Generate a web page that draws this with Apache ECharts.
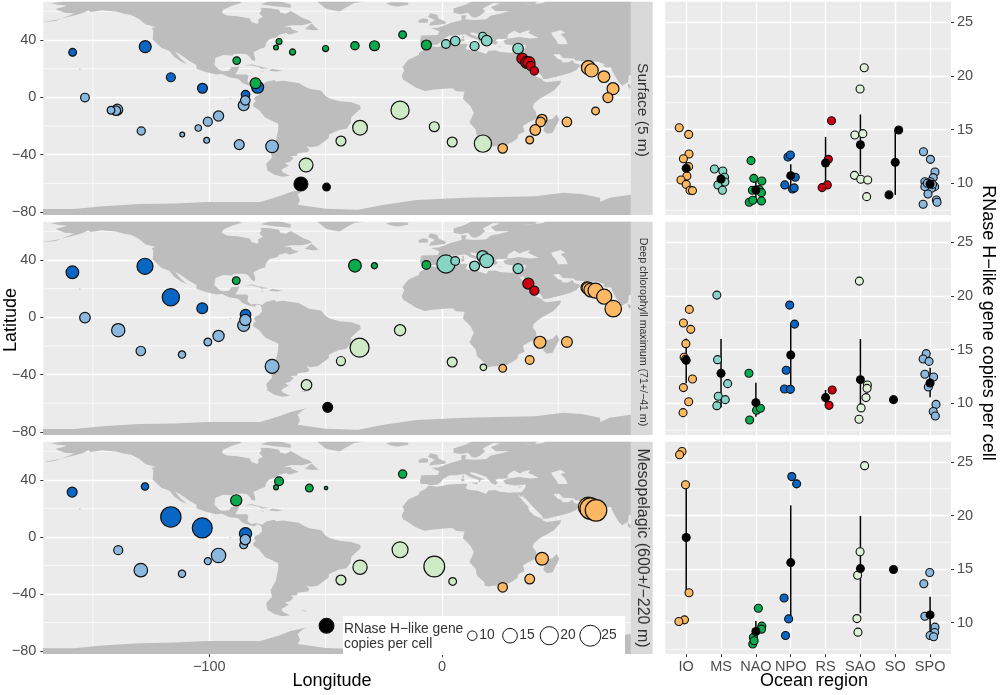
<!DOCTYPE html>
<html>
<head>
<meta charset="utf-8">
<script src="https://cdn.jsdelivr.net/npm/echarts@6/dist/echarts.min.js"></script>
<style>
html, body { margin: 0; padding: 0; background: #fff; }
#main { width: 1000px; height: 695px; }
</style>
</head>
<body>
<div id="main"></div>
<script>
var categories = ['IO', 'MS', 'NAO', 'NPO', 'RS', 'SAO', 'SO', 'SPO'];
var depthLabels = ['Surface (5 m)', 'Deep chlorophyll maximum (71+/\u221241 m)', 'Mesopelagic (600+/\u2212220 m)'];
var legendValues = [10, 15, 20, 25];

var lonTicks = [-100, 0], lonMinor = [-150, -50, 50];
var latTicks = [40, 0, -40, -80], latMinor = [60, 20, -20, -60];
var copyTicks = [10, 15, 20, 25], copyMinor = [7.5, 12.5, 17.5, 22.5];
var regionTicks = [1, 2, 3, 4, 5, 6, 7, 8];

// land outlines, lon / lat
var americas = [[-168,65.6],[-164,66.5],[-163,67],[-166,68.4],[-162,70],[-156,71.3],[-150,70.5],[-141,69.7],[-135,69],[-128,70],[-120,69.5],[-115,68],[-108,68],[-100,68],[-95,70],[-95,68],[-90,68.5],[-87,67],[-86,66],[-90,64],[-94,61],[-94.5,58.8],[-92.5,57],[-88,56.5],[-82.5,55],[-82,52.7],[-79.5,51.3],[-78.8,52],[-79,54.5],[-77,56],[-78.5,58.7],[-77.5,60.5],[-78,62.4],[-74,62.2],[-70,61],[-69.5,59],[-67,58.3],[-65,60.2],[-62,57.5],[-60,55.5],[-57,53.5],[-55.8,52],[-60,50.2],[-65,50.3],[-68,48.8],[-65,49],[-64.5,47.5],[-61.5,45.7],[-65.5,43.6],[-67,44.8],[-70,43.6],[-70.7,42],[-74,40.6],[-75.5,38],[-76,35],[-78,33.8],[-81,31.5],[-80.2,27],[-80.4,25.2],[-81.8,26],[-82.8,28.5],[-84,30],[-86,30.4],[-89.5,30.2],[-90,29.1],[-94,29.6],[-97.3,27.5],[-97.8,22.5],[-95.5,18.8],[-94,18.2],[-91.5,18.6],[-90.5,21],[-87,21.5],[-88,18],[-88.8,15.9],[-84,15.9],[-83.2,14.8],[-83.6,11],[-82,9],[-79.8,9.5],[-77.3,8.6],[-75.5,10.8],[-72,12.1],[-71.3,11],[-68,11.5],[-64,10.5],[-61.5,10],[-60,8.4],[-57,6],[-52,4.8],[-50,1],[-48,-1],[-44,-2.7],[-39,-3.5],[-35.2,-5.5],[-34.9,-8],[-37,-11],[-39,-14],[-39.2,-18],[-41,-22],[-44.5,-23],[-48.5,-26],[-48.7,-28.5],[-52,-32.5],[-53.5,-34.2],[-56.5,-34.9],[-58.3,-34],[-57,-36.5],[-57.6,-38.2],[-62,-39],[-62.3,-40.8],[-65,-41],[-63.8,-42.5],[-65.3,-45],[-67.5,-46],[-65.8,-47.5],[-69,-50.5],[-68.4,-52.4],[-65.2,-54.8],[-68.5,-55.5],[-72,-54],[-75,-51],[-75.5,-46.5],[-73,-42],[-73.7,-37.5],[-71.5,-31],[-70.4,-23],[-70.3,-18.4],[-76,-14],[-78.5,-9],[-81.2,-6],[-81,-4],[-80,-3],[-80.8,-1],[-80,0.8],[-78.8,1.5],[-77.3,4],[-77.5,7],[-78.2,8.4],[-79.6,8.9],[-80.5,7.3],[-83,8.3],[-85.7,10],[-87.6,13],[-91.5,14],[-94.5,16.2],[-97,15.9],[-101.5,17.6],[-105.5,20],[-105.5,22.5],[-108.5,25.3],[-112.5,29.8],[-114.7,31.7],[-112.3,27],[-109.5,23],[-112,24.8],[-115,28.2],[-117.2,32.5],[-120.6,34.5],[-122.5,37.5],[-124.3,40.3],[-124,46],[-124.7,48.4],[-123,49],[-127.5,51],[-130,54.5],[-133.5,57.5],[-137,58.5],[-140,59.8],[-146,60.7],[-151,59.5],[-152,60.8],[-154,59],[-158,57],[-163.5,55],[-158,58.5],[-162,59],[-164.5,60.5],[-166,61.6],[-161,63.8],[-165,64.5]];
var africa = [[-5.9,35.8],[-2,35.1],[3,36.8],[10,37.3],[11,36.9],[10.2,34.3],[11,33.2],[15.2,32.3],[19,30.3],[20,32.5],[23,32.7],[25,31.6],[29,31],[32.3,31.2],[32.6,29.9],[33.7,27.5],[35.5,24],[37.2,21],[37.3,18.7],[39.5,15.2],[43.2,12.5],[43.3,11.5],[45,10.5],[51.2,11.8],[50.8,9.5],[48,4.5],[42,-1],[39.5,-4.5],[39,-7],[40.5,-10.5],[40.7,-15],[36.8,-18],[34.8,-20],[35.5,-24],[32.8,-26],[32.5,-28.5],[30.5,-31],[27,-33.8],[22,-34.2],[20,-34.8],[18.4,-34],[18.2,-31.7],[15,-27],[14.5,-22.5],[11.8,-17.5],[13.7,-10.8],[12.2,-6],[9,-1],[9.7,3.8],[6,4.3],[4.5,6.3],[1,5.9],[-4,5.2],[-7.5,4.4],[-11.5,7],[-13.3,9],[-16.7,12.4],[-17.3,14.7],[-16.2,19],[-17,21],[-14.5,26.2],[-10,29.5],[-9.7,31.5],[-6.8,34]];
var eurasia = [[-9,37],[-9.5,39],[-8.9,43.2],[-1.8,43.4],[-1.2,46],[-4.7,48.4],[-1.5,48.7],[1.5,50.5],[4,52],[8.5,54],[8.2,57],[10.5,57.5],[10,54.5],[14,54],[19,54.5],[21,57],[24,58],[29,60],[23,60],[21,63],[25,65.5],[22,65.8],[17.5,62],[18.5,60],[16.5,57],[14.5,55.5],[12.8,56],[11.2,59],[8,58],[5,59],[5,62],[10,64.5],[14,68],[20,70],[28,71],[41,67],[40,65],[35,64.5],[38,64.5],[44,66],[44,68],[55,68.5],[68,69],[70,73],[81,73],[90,75],[90,22],[86,20],[82,16.5],[80.2,15],[80.2,12.5],[79.8,10.2],[78,8.8],[77.5,8],[76,10.5],[74.5,14.5],[73,19],[72.7,21],[70.5,20.8],[69,22.3],[70,23],[67,24.8],[62,25.2],[57.5,25.7],[56.5,27],[52,27.5],[50.5,30],[48.5,30.2],[48,29.5],[50,26.5],[51.5,25.8],[51.5,24.5],[54,24.2],[56.2,26],[56.8,24],[59.8,22.5],[57.8,19],[55,17],[52,15.6],[45,12.8],[43.5,12.7],[42.8,15],[39.5,20.5],[37,25],[35,28],[34.9,29.5],[34.3,27.8],[32.6,29.9],[32.3,31.2],[34.3,31.3],[35.9,35],[36,36.7],[32,36],[30,36.3],[27.3,37],[26.3,39.5],[29,41],[33,42],[38,41],[41.5,41.5],[39,43.5],[37,45],[38,47],[35,45.8],[33.5,44.5],[31,46.5],[28.5,44],[28,41.8],[29,41.1],[26,40.7],[24,40.8],[23,40],[24,38],[23,36.5],[21.5,37.5],[19.5,41],[19,42.2],[14,45],[12.3,45.3],[12.4,44],[16,41.8],[18.4,40],[16.8,40],[16,38],[15.7,40],[12,42],[10,44],[6,43.2],[3.2,43.2],[0.5,40.5],[-0.5,38.5],[-2,36.8],[-5.3,36.1],[-6.4,37]];
var antarctica = [[-180,-78],[-158,-78],[-146,-76],[-130,-74.5],[-115,-74],[-101,-73],[-90,-73],[-78,-73],[-70,-69],[-65,-66],[-58,-63.5],[-60,-65],[-62,-68],[-61,-72],[-62,-75],[-50,-77.8],[-36,-78.5],[-25,-75],[-11,-71.6],[10,-70],[24,-69.5],[40,-69],[52,-66.5],[60,-67.5],[68,-70],[68,-73],[72,-70],[81,-68],[100,-66],[100,-90],[-180,-90]];
var greenland = [[-55,70],[-53,66],[-50,62],[-48,61],[-43.9,59.9],[-42,62],[-38,65.7],[-30,68],[-22,70],[-20,78],[-60,82],[-72,78]];
var iceland = [[-24,65.5],[-22,64],[-19,63.4],[-14.5,64.5],[-14.5,66],[-18,66.3],[-22,66.4]];
var baffin = [[-80,70],[-72,68],[-65,65],[-65,62.5],[-72,63.5],[-78,65],[-74,67]];
var newfoundland = [[-59,47.7],[-56,51.5],[-53,47],[-55.5,46.8]];
var cuba = [[-84.9,21.9],[-82,23.1],[-77,21],[-74.2,20.2],[-77.7,19.9],[-78.5,21],[-82,22.4]];
var hispaniola = [[-74.4,18.5],[-73,19.9],[-68.4,18.6],[-71,18]];
var jamaica = [[-78.3,18.3],[-76.3,18.1],[-77,17.8]];
var britain = [[-5.5,50],[1.3,51.2],[1.7,52.7],[-1.5,55],[-2,57.6],[-5,58.6],[-6,56],[-3,54],[-5,52]];
var ireland = [[-10,52],[-6,52.2],[-6,54.5],[-8,55.2],[-10,54]];
var madagascar = [[49.3,-12],[50.4,-15.5],[47.5,-24.8],[45,-25.5],[43.5,-23],[44.4,-19],[44.3,-16.2],[47.5,-15]];
var sriLanka = [[80,9.7],[81.8,7.5],[80.5,6],[79.8,8]];
var sardinia = [[8.3,39],[9.7,39.2],[9.5,41],[8.3,40.8]];
var corsica = [[8.6,41.6],[9.4,41.5],[9.4,43],[8.7,42.6]];
var sicily = [[12.5,38],[15.5,38.2],[15,36.7]];
var crete = [[23.5,35.5],[26.3,35.2],[24.5,34.9]];
var cyprus = [[32.3,34.8],[34.5,35.6],[33.5,34.7]];
var falklands = [[-61,-51.5],[-58,-51.5],[-58.5,-52.3]];
var hawaii = [[-156,20.2],[-155,19.7],[-155.7,19]];
var aleutians = [[-172,52.3],[-166,53.3],[-163.5,54.8],[-166,54]];
var galapagos = [[-91.5,-0.3],[-90.2,-0.4],[-91,-1]];
var landShapes = [americas, africa, eurasia, antarctica, greenland, iceland, baffin, newfoundland, cuba, hispaniola, jamaica, britain, ireland, madagascar, sriLanka, sardinia, corsica, sicily, crete, cyprus, falklands, hawaii, aleutians, galapagos];
var caspian = [[47,45],[51,47],[53,45],[51,44],[53,41],[54,37],[50,37],[49,40],[47.5,43]];

// map sites: lon, lat, copies per cell
var surfaceSites = {
    NPO: [[-158.7,31.4,9],[-127.5,35.3,12],[-116.5,14,9.7],[-102.9,6.3,10.3],[-79.2,7,12],[-84.4,1.9,9.4]],
    SPO: [[-153.4,-0.2,9.5],[-139.5,-8.6,11],[-140.1,-9.3,10],[-142.2,-9,9],[-129.2,-23.5,9.2],[-111.6,-26,8.1],[-104.7,-21.4,8.5],[-101.1,-30,8.3],[-100.6,-17,9.7],[-96,-13,10.5],[-85.2,-5.6,11],[-84.5,-2.1,10],[-87.1,-33,10.3],[-73,-34.2,12.7]],
    SAO: [[-43.4,-30.5,10.3],[-35.2,-21.2,15],[-18,-9,20],[-3.3,-20.5,10.3],[4.4,-31.2,10.3],[17.6,-32.3,18.5],[-58.4,-47.2,14]],
    SO: [[-60.6,-60.5,14],[-49.6,-62.6,9]],
    NAO: [[-88.2,25.6,8.9],[-80.1,9.8,11],[-70,39,8.3],[-71.3,34.7,8.1],[-64.2,31.6,8.4],[-50,34,8.4],[-37.4,36,9.3],[-29,36,10.3],[-16.9,43.7,9],[-6.7,36.5,10.3]],
    MS: [[1.7,37.2,9.5],[5.7,39.3,10],[14,35.8,9.7],[17.5,42.6,9.1],[19.2,39.5,10.8],[32.7,34,10.8]],
    RS: [[34.5,27,11],[36.4,24.4,12],[37.4,24.2,12],[38.1,21.9,9.7],[39.7,18.4,9.3]],
    IO: [[62.9,20.7,14],[64.3,18.8,13.3],[69.6,14.4,11.7],[73.5,6,12],[71.3,-0.2,10.3],[66,-9.5,9],[53.7,-17.2,10],[43,-15.3,10.3],[42.4,-17.2,10],[40.1,-22.8,10.8],[37.7,-29.8,9],[26.1,-35.6,10]]
};
var deepSites = {
    NPO: [[-158.8,31.4,12.7],[-127.6,35.6,16.7],[-116.5,14,18.5],[-103,6.3,11],[-84.4,1.9,10.8]],
    SPO: [[-153.4,-0.2,10.8],[-139.1,-9,13.3],[-129.4,-23.5,10],[-111.7,-26,8.8],[-100.6,-17.2,9],[-96,-13,11.3],[-85.2,-5.6,12],[-84.5,-1.9,11.3],[-73,-34.2,14]],
    SAO: [[-58.2,-47.2,10.8],[-43.4,-30.5,9.7],[-35.4,-21.2,21.3],[-18,-9,11.3],[4.4,-31.2,10.3],[17.8,-34.9,8.5]],
    SO: [[-49.1,-62.8,10.3]],
    NAO: [[-88.4,25.6,9],[-37.4,36,12.7],[-29,36,8.4],[-6.7,36.5,9.5]],
    MS: [[1.7,37.2,20],[5.7,39.3,9.5],[14,35.8,10.3],[17.5,42.6,11.5],[19.2,39.5,14],[32.7,34,10.3]],
    RS: [[37.1,23.5,11.2],[39.7,18.6,9.8]],
    IO: [[62.2,20.7,11.5],[62.9,20.2,12.7],[64,19,14],[66,18.6,15.5],[69.7,14.4,15.5],[73.6,6,17.4],[42.1,-17.4,12],[53.7,-17.2,11],[37.7,-29.8,9.5],[26.1,-35.6,9]]
};
var mesoSites = {
    NPO: [[-158.9,31.4,10.3],[-127.6,35.3,8.8],[-116.5,14,23.7],[-103,6.3,23],[-84.4,2.3,12.2]],
    SPO: [[-139.1,-9.3,9.7],[-129.4,-23.3,13.6],[-111.7,-25.8,8.8],[-100.6,-17,8.7],[-96,-13,14.6],[-85.2,-5.6,9],[-84.5,-1.9,10.6]],
    SAO: [[-43.4,-30.2,10.3],[-35.2,-21.2,14.4],[-18,-9,16.6],[-3.3,-20.7,24.6],[4.6,-31.2,9]],
    SO: [[-49.6,-62.3,15]],
    NAO: [[-88.4,25.6,11.3],[-70,39,9.6],[-71.3,34.7,8.1],[-57,34.2,9],[-49.8,34.2,8],[-16.9,44,9.3]],
    MS: [],
    RS: [],
    IO: [[62.9,20.9,22.8],[63.9,19.8,25.8],[66.2,18.6,26],[43,-15.3,12.8],[37.7,-29.5,10.2],[26.1,-35.3,10]]
};

// right panels: jittered region position, copies per cell
var surfaceCopies = {
    NPO: [[3.92,12.45],[3.99,12.63],[3.83,9.85],[4.05,9.47],[4.1,9.57],[4.13,10.56]],
    SPO: [[7.81,12.94],[8.01,12.23],[8.14,11.05],[8.09,10.53],[7.85,10.15],[8.01,10.15],[8.13,9.69],[8.04,9.54],[7.85,9.69],[7.94,9],[8.18,8.45],[8.2,8.23],[7.8,8.05],[7.92,10],[8.07,9.9]],
    SAO: [[6.11,20.75],[5.99,18.77],[5.84,14.49],[6.07,14.62],[5.83,10.74],[6.01,10.37],[6.21,10.31],[6.18,8.76]],
    SO: [[6.82,8.92],[7.1,14.96]],
    NAO: [[2.86,12.11],[2.94,10.46],[3.17,10.22],[2.9,9.35],[3.1,9.41],[3.16,9.13],[2.81,8.23],[2.91,8.42],[3.16,8.36]],
    MS: [[1.81,11.33],[2.05,11.15],[2.1,10.56],[2.11,10.12],[1.91,9.85],[2.04,9.35]],
    RS: [[5.17,15.82],[5.08,12.23],[5.05,9.85],[4.9,9.6]],
    IO: [[0.8,15.17],[1.07,14.55],[1.08,12.73],[0.92,12.29],[1.07,11.55],[1.02,10.68],[0.85,10.31],[1,9.9],[1.11,9.35],[1.18,9.32]]
};
var deepCopies = {
    NPO: [[3.97,19.14],[4.11,17.37],[3.87,13.07],[3.82,11.33],[3.99,11.3]],
    SPO: [[7.89,14.62],[7.8,14.12],[7.97,13.9],[7.85,12.7],[8.1,12.45],[7.95,11.52],[8.17,9.9],[8.09,9.23],[8.15,8.82]],
    SAO: [[5.97,21.37],[6.2,11.7],[6.19,11.39],[6.16,10.53],[6.02,9.57],[5.96,8.51]],
    SO: [[6.95,10.34]],
    NAO: [[2.8,12.79],[3.02,9.35],[3.13,9.54],[2.82,8.45]],
    MS: [[1.88,20.07],[1.9,14.06],[2.19,11.83],[1.92,10.65],[2.12,10.34],[1.88,9.78]],
    RS: [[5.19,11.24],[5.1,9.81]],
    IO: [[1.09,18.74],[0.92,17.47],[1.13,16.88],[0.99,15.55],[0.94,14.28],[0.98,14.09],[1.18,12.26],[0.92,11.46],[1.07,10.15],[0.91,9.13]]
};
var mesoCopies = {
    NPO: [[4.03,23.64],[4.17,22.96],[3.81,12.29],[3.94,10.34],[3.85,8.79]],
    SPO: [[7.99,14.67],[7.82,13.62],[7.85,10.59],[8.14,9.57],[8.13,9.07],[8,8.79],[8.1,8.67]],
    SAO: [[6.12,24.66],[5.99,16.62],[5.92,14.42],[5.9,10.37],[5.93,9.1]],
    SO: [[6.95,14.95]],
    NAO: [[3.07,11.33],[3.17,9.66],[3.16,9.38],[2.93,8.61],[2.91,7.99],[2.95,8.3]],
    MS: [],
    RS: [],
    IO: [[0.88,25.99],[0.81,25.68],[0.98,22.87],[1.08,12.78],[0.95,10.25],[0.79,10.09]]
};

// region position, mean, low, high
var surfaceMeans = [[1,11.39,10.7,12.1],[2,10.4,9.9,10.9],[3,9.38,8.6,10.2],[4,10.71,9.7,11.77],[5,11.89,9.5,14.31],[6,13.59,10.87,16.41],[7,11.95,8.92,14.96],[8,9.94,9.2,10.6]];
var deepMeans = [[1,14,11.86,16.04],[2,12.79,9.6,15.98],[3,10.06,8.76,11.92],[4,14.49,11.6,17.37],[5,10.53,9.81,11.24],[6,12.2,9.5,15.98],[8,11.89,10.56,13.31]];
var mesoMeans = [[1,17.95,12.78,22.87],[3,9.16,8.15,10.15],[4,15.6,10.3,20.95],[6,15.04,10.87,19.96],[8,10.71,8.9,12.41]];

var regionOrder = ['NPO', 'SPO', 'SAO', 'SO', 'NAO', 'MS', 'RS', 'IO'];
var regionColors = { IO: '#fdb863', MS: '#86d5c5', NAO: '#0aab4d', NPO: '#0a66c4', RS: '#cc0011', SAO: '#cfeac7', SO: '#000000', SPO: '#8ab8de' };
var paleSao = '#dff1d8';

var allSites = [surfaceSites, deepSites, mesoSites];
var allCopies = [surfaceCopies, deepCopies, mesoCopies];
var allMeans = [surfaceMeans, deepMeans, mesoMeans];

var panelTops = [1.7, 221.7, 441.7];
var panelHeights = [213.3, 213.3, 212.4];
var mapLeft = 43.3, mapWidth = 587.4, stripWidth = 22;
var dotLeft = 665.3, dotWidth = 285.7;
var textColor = '#4d4d4d', fontName = '"Liberation Sans", Arial, sans-serif';

function sizeOf(v) {
    return 3.5 + 18 * Math.sqrt(Math.max(v - 8, 0) / 18);
}

var grids = [], xAxes = [], yAxes = [], series = [], graphics = [];

function splitStyle() {
    return { show: true, lineStyle: { color: '#fff', width: 1.4 } };
}

function guideSeries(idx, xs, ys) {
    var rows = xs.map(function (v) { return [v, 0]; }).concat(ys.map(function (v) { return [v, 1]; }));
    return {
        type: 'custom', xAxisIndex: idx, yAxisIndex: idx, silent: true, z: 1, clip: true,
        data: rows,
        encode: { x: 0, y: 0 },
        renderItem: function (params, api) {
            var v = api.value(0), c = params.coordSys, p = api.coord([v, v]);
            var shape = api.value(1) === 0
                ? { x1: p[0], y1: c.y, x2: p[0], y2: c.y + c.height }
                : { x1: c.x, y1: p[1], x2: c.x + c.width, y2: p[1] };
            return { type: 'line', shape: shape, style: { stroke: '#fff', lineWidth: 0.7 } };
        }
    };
}

function landSeries(idx, shapes, color, z) {
    return {
        type: 'custom', xAxisIndex: idx, yAxisIndex: idx, silent: true, z: z, clip: true,
        data: shapes.map(function (s, i) { return [i, 0]; }),
        encode: { x: 0, y: 1 },
        renderItem: function (params, api) {
            var pts = shapes[api.value(0)].map(function (d) { return api.coord(d); });
            return { type: 'polygon', shape: { points: pts }, style: { fill: color } };
        }
    };
}

depthLabels.forEach(function (label, p) {
    var bottom = p === 2;
    // map panel
    grids.push({ left: mapLeft, top: panelTops[p], width: mapWidth, height: panelHeights[p], backgroundColor: '#ebebeb', show: true, borderWidth: 0 });
    xAxes.push({
        type: 'value', gridIndex: p, position: 'bottom', min: -171.3, max: 81.1,
        axisLine: { show: false, onZero: false },
        axisTick: { show: bottom, customValues: lonTicks, length: 3, lineStyle: { color: '#333' } },
        axisLabel: {
            show: bottom, customValues: lonTicks, color: textColor, fontSize: 14.5, fontFamily: fontName, margin: 5,
            formatter: function (v) { return String(v).replace('-', '\u2212'); }
        },
        splitLine: splitStyle()
    });
    yAxes.push({
        type: 'value', gridIndex: p, position: 'left', min: -82.1, max: 66.7,
        axisLine: { show: false, onZero: false },
        axisTick: { show: true, customValues: latTicks, length: 3, lineStyle: { color: '#333' } },
        axisLabel: {
            customValues: latTicks, color: textColor, fontSize: 14.5, fontFamily: fontName, margin: 7,
            formatter: function (v) { return String(v).replace('-', '\u2212'); }
        },
        splitLine: splitStyle()
    });
    series.push(guideSeries(p, lonMinor, latMinor));
    series.push(landSeries(p, landShapes, '#bdbdbd', 2));
    series.push(landSeries(p, [caspian], '#ebebeb', 3));
    regionOrder.forEach(function (r) {
        series.push({
            type: 'scatter', xAxisIndex: p, yAxisIndex: p, z: 5, silent: true,
            data: allSites[p][r],
            symbolSize: function (d) { return sizeOf(d[2]); },
            itemStyle: { color: regionColors[r], borderColor: '#111', borderWidth: 1.2, opacity: 1 }
        });
    });
    // strip
    graphics.push({ type: 'rect', z: 50, silent: true, shape: { x: mapLeft + mapWidth, y: panelTops[p], width: stripWidth, height: panelHeights[p] }, style: { fill: '#d9d9d9' } });
});

depthLabels.forEach(function (label, p) {
    var bottom = p === 2, g = p + 3;
    // jitter panel
    grids.push({ left: dotLeft, top: panelTops[p], width: dotWidth, height: panelHeights[p], backgroundColor: '#ebebeb', show: true, borderWidth: 0 });
    xAxes.push({
        type: 'value', gridIndex: g, position: 'bottom', min: 0.4, max: 8.6,
        axisLine: { show: false, onZero: false },
        axisTick: { show: bottom, customValues: regionTicks, length: 3, lineStyle: { color: '#333' } },
        axisLabel: {
            show: bottom, customValues: regionTicks, color: textColor, fontSize: 14.5, fontFamily: fontName, margin: 5,
            formatter: function (v) { return categories[v - 1]; }
        },
        splitLine: splitStyle()
    });
    yAxes.push({
        type: 'value', gridIndex: g, position: 'right', min: 7.05, max: 26.9,
        axisLine: { show: false, onZero: false },
        axisTick: { show: true, customValues: copyTicks, length: 3, lineStyle: { color: '#333' } },
        axisLabel: { customValues: copyTicks, color: textColor, fontSize: 14.5, fontFamily: fontName, margin: 6 },
        splitLine: splitStyle()
    });
    series.push(guideSeries(g, [], copyMinor));
    // error bars
    series.push({
        type: 'custom', xAxisIndex: g, yAxisIndex: g, z: 3, silent: true,
        data: allMeans[p],
        encode: { x: 0, y: 1 },
        renderItem: function (params, api) {
            var a = api.coord([api.value(0), api.value(2)]), b = api.coord([api.value(0), api.value(3)]);
            return { type: 'line', shape: { x1: a[0], y1: a[1], x2: b[0], y2: b[1] }, style: { stroke: '#000', lineWidth: 1.5 } };
        }
    });
    categories.forEach(function (r) {
        series.push({
            type: 'scatter', xAxisIndex: g, yAxisIndex: g, z: 4, silent: true, symbolSize: 8,
            data: allCopies[p][r],
            itemStyle: { color: r === 'SAO' ? paleSao : regionColors[r], borderColor: '#111', borderWidth: 1.1, opacity: 1 }
        });
    });
    series.push({
        type: 'scatter', xAxisIndex: g, yAxisIndex: g, z: 6, silent: true, symbolSize: 9,
        data: allMeans[p].map(function (d) { return [d[0], d[1]]; }),
        itemStyle: { color: '#000', opacity: 1 }
    });
});

function addText(text, x, y, size, color, rotation, align) {
    graphics.push({
        type: 'text', z: 60, silent: true, x: x, y: y, rotation: rotation || 0,
        style: { text: text, fontSize: size, fontFamily: fontName, fill: color, align: align || 'center', verticalAlign: 'middle', lineHeight: 15.3 }
    });
}

// strip labels
var down = -Math.PI / 2;
addText(depthLabels[0], 642.7, 110, 15.5, '#333', down);
addText(depthLabels[1], 642.7, 332, 10.6, '#333', down);
addText(depthLabels[2], 642.7, 548, 16, '#333', down);

// axis titles
addText('Longitude', 332, 681, 18, '#000');
addText('Ocean region', 814, 681, 18, '#000');
addText('Latitude', 11, 320, 18, '#000', Math.PI / 2);
addText('RNase H\u2212like gene copies per cell', 988, 323, 18, '#000', down);

// size legend
graphics.push({ type: 'rect', z: 55, silent: true, shape: { x: 343, y: 616, width: 282, height: 39 }, style: { fill: '#fff' } });
addText('RNase H\u2212like gene\ncopies per cell', 344, 637, 13.8, '#333', 0, 'left');
var legendX = [472.3, 510, 549.3, 590.3], legendLabelX = [487, 527, 568, 609];
legendValues.forEach(function (v, i) {
    graphics.push({ type: 'circle', z: 58, silent: true, shape: { cx: legendX[i], cy: 635.7, r: sizeOf(v) / 2 }, style: { fill: '#fff', stroke: '#111', lineWidth: 1 } });
    addText(String(v), legendLabelX[i], 635, 13.8, '#333');
});

var myChart = echarts.init(document.getElementById('main'));
var option = {
    animation: false,
    backgroundColor: '#fff',
    textStyle: { fontFamily: fontName },
    grid: grids,
    xAxis: xAxes,
    yAxis: yAxes,
    series: series,
    graphic: { elements: graphics }
};
myChart.setOption(option);
</script>
</body>
</html>
